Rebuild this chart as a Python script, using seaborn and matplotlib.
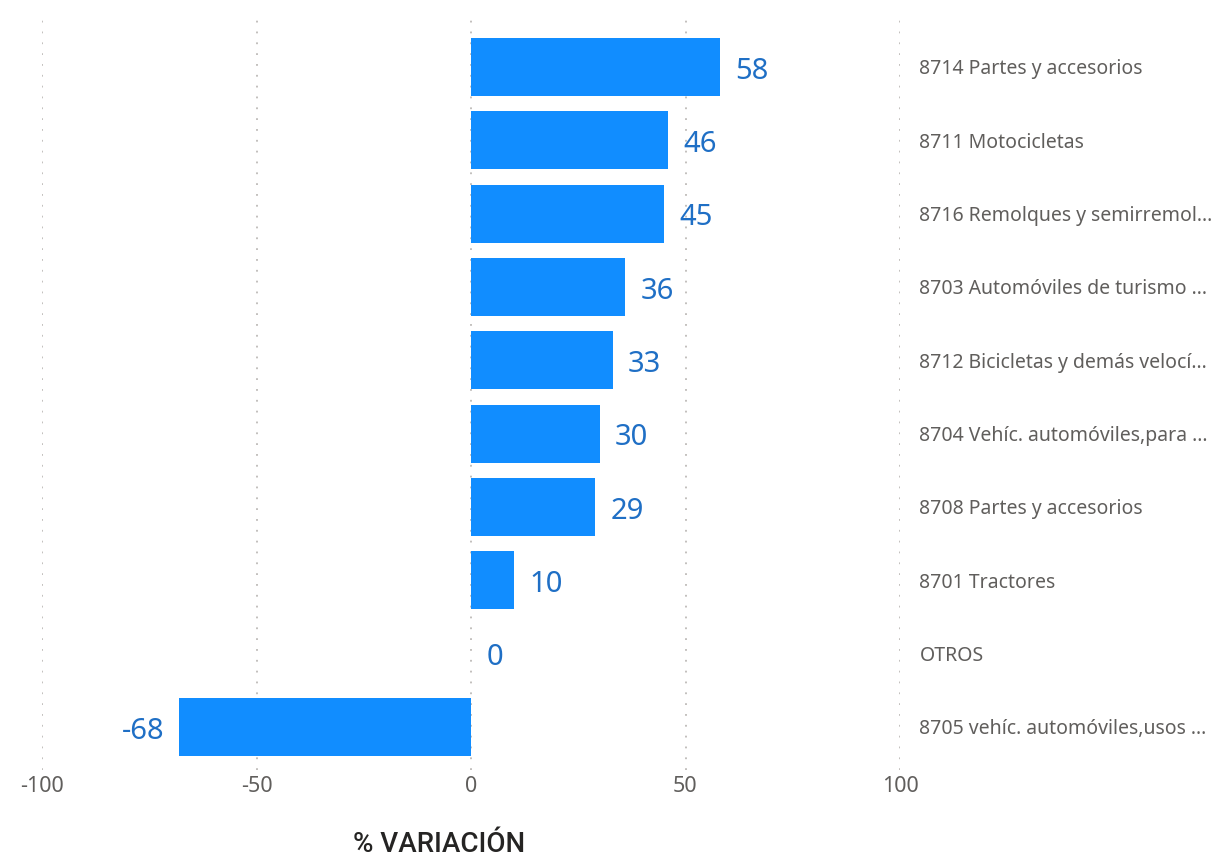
import pandas as pd
import seaborn as sns
import matplotlib.pyplot as plt

# Data
categories = [
    '8714 Partes y accesorios',
    '8711 Motocicletas',
    '8716 Remolques y semirremol…',
    '8703 Automóviles de turismo …',
    '8712 Bicicletas y demás velocí…',
    '8704 Vehíc. automóviles,para …',
    '8708 Partes y accesorios',
    '8701 Tractores',
    'OTROS',
    '8705 vehíc. automóviles,usos …',
]
variacion = [58, 46, 45, 36, 33, 30, 29, 10, 0, -68]
x_ticks = [-100, -50, 0, 50, 100]

df = pd.DataFrame({'categoria': categories, 'variacion': variacion})

sns.set_style('white')
plt.rcParams['font.family'] = ['Noto Sans', 'DejaVu Sans']

fig = plt.figure(figsize=(12.21, 8.58), dpi=100)
ax = fig.add_axes([42 / 1221, 1 - 770 / 858, (900 - 42) / 1221, (770 - 18) / 858])

sns.barplot(data=df, x='variacion', y='categoria', orient='h',
            color='#118DFF', saturation=1, width=0.79, linewidth=0, ax=ax)

# Data labels
for i, v in enumerate(variacion):
    if v >= 0:
        ax.annotate(str(v), (v, i), xytext=(11, -3), textcoords='offset points',
                    ha='left', va='center', fontsize=21, color='#1F6FC5')
    else:
        ax.annotate(str(v), (v, i), xytext=(-11, -3), textcoords='offset points',
                    ha='right', va='center', fontsize=21, color='#1F6FC5')

ax.set_xlim(-100, 100)
ax.set_ylim(9.587, -0.668)
ax.set_xticks(x_ticks)
ax.set_xticklabels([str(t) for t in x_ticks])

ax.yaxis.tick_right()
ax.tick_params(axis='y', length=0, pad=14, labelsize=14, labelcolor='#605E5C')
ax.tick_params(axis='x', length=0, pad=4, labelsize=15.5, labelcolor='#605E5C')

ax.set_xlabel('')
ax.set_ylabel('')
ax.grid(axis='x', linestyle=(0, (1, 5)), color='#BDBAB7', linewidth=1.3)
ax.set_axisbelow(True)
for s in ax.spines.values():
    s.set_visible(False)

fig.text(439 / 1221, 1 - 845 / 858, '% VARIACIÓN', ha='center', va='center',
         fontsize=20, color='#252423', fontweight='medium',
         family=['Roboto', 'DejaVu Sans'])

fig.savefig('out.png', dpi=100)
